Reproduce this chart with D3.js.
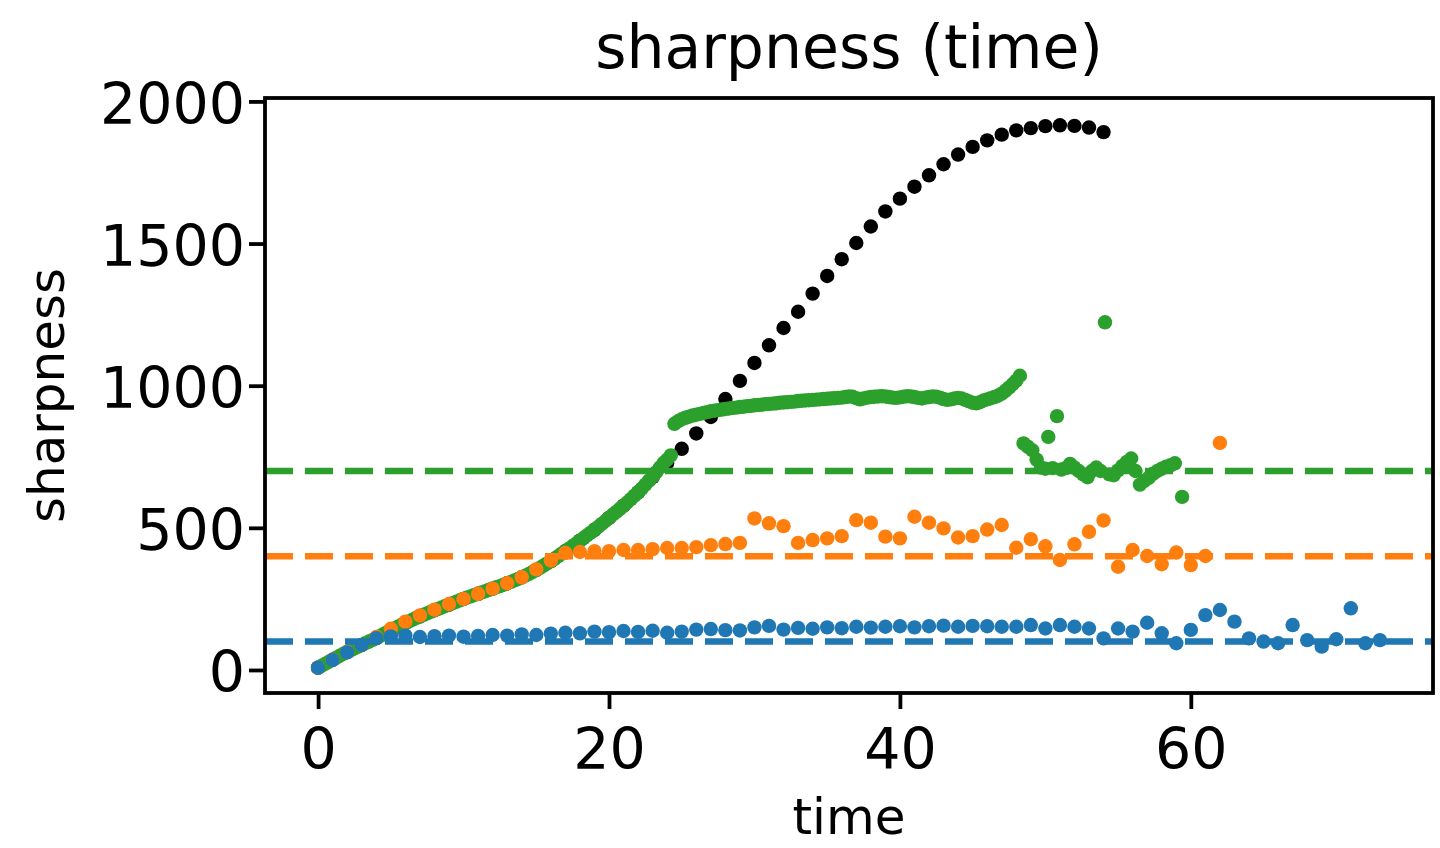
<!DOCTYPE html>
<html><head><meta charset="utf-8">
<script src="https://cdn.jsdelivr.net/npm/d3@7"></script>
<style>
body{margin:0;background:#fff;}
svg{display:block;}
text{font-family:"DejaVu Sans",sans-serif;fill:#000;}
</style>
</head><body>
<svg id="chart" width="1440" height="848"></svg>
<script>
// ---- data ----
const blackValues = [8,36,63,88,112,140,165,188,210,230,
  250,268,286,305,326,352,383,418,455,493,
  535,578,625,678,728,778,832,890,953,1017,
  1080,1142,1203,1260,1324,1386,1445,1502,1560,1613,
  1658,1700,1740,1779,1813,1840,1863,1883,1898,1906,
  1913,1916,1914,1908,1892];

const greenDenseStep = 0.25;
const greenDenseValues = [
  8,15,22,29, 36,43,50,57, 63,70,76,82, 88,94,100,106,
  112,119,126,133, 140,146,152,159, 165,171,177,183, 188,194,199,205,
  210,215,220,225, 230,235,240,245, 250,255,259,264, 268,273,277,282,
  286,291,295,300, 305,310,315,320, 326,332,338,345, 352,359,367,375,
  383,391,400,409, 418,427,436,445, 455,464,474,483, 493,503,514,524,
  535,546,556,567, 578,589,601,613, 625,638,652,666, 680,696,712,728,
  740,755,866,875, 882,887,891,895, 898,901,904,907, 910,912,914,916,
  918,920,922,923, 925,926,928,929, 931,932,933,935, 936,937,938,940,
  941,942,943,944, 946,947,948,949, 950,951,952,953, 954,955,956,957,
  958,960,962,961, 956,952,955,958, 960,961,962,963, 962,960,958,957,
  959,961,963,962, 960,957,955,958, 960,962,961,958, 953,950,952,955,
  957,955,950,945, 940,938,942,948, 952,956,960,965, 972,982,993,1005,
  1018,1035];

const greenLateTimes = [48.5,48.8,49.1,49.4,49.7,50.0,50.2,50.5,50.8,51.1,51.4,51.7,52.0,52.3,52.6,52.9,53.2,53.5,53.8,54.1,
  54.4,54.7,55.0,55.3,55.6,55.9,56.2,56.5,56.8,57.1,57.4,57.7,58.0,58.3,58.6,58.9,59.4];
const greenLateValues = [797,785,773,740,712,708,820,710,893,705,710,725,712,700,688,678,700,712,700,1223,
  688,685,702,718,732,744,700,652,665,676,690,700,708,715,720,727,609];

const orangeValues = [8,36,63,88,116,145,170,192,212,232,250,268,286,305,326,354,385,412,
  415,418,418,422,422,425,429,429,432,439,443,447,
  533,516,506,447,457,463,471,527,518,469,463,539,518,498,466,471,494,510,430,460,435,387,442,486,526,363,422,401,372,413,369,401,799];

const blueValues = [8,35,62,88,112,
  118,121,116,119,121,117,120,123,121,125,123,128,131,129,135,133,137,134,138,131,135,142,144,140,139,
  150,155,142,148,145,150,147,152,149,152,154,150,154,156,152,155,154,
  152,152,158,146,158,152,146,111,146,135,166,129,94,141,193,211,170,111,100,94,158,105,82,108,217,94,105];

const thresholdValues = [100, 400, 700];
const thresholdNames = ["blue", "orange", "green"];

const xTicks = [0, 20, 40, 60];
const yTicks = [0, 500, 1000, 1500, 2000];

const titleText = "sharpness (time)";
const xLabelText = "time";
const yLabelText = "sharpness";

// ---- styling ----
const colors = {blue:"#1f77b4", orange:"#ff7f0e", green:"#2ca02c", black:"#000000"};
const R = 7.2;

const plot = {left:265, right:1433, top:98, bottom:693};

const x = d3.scaleLinear().domain([-3.65, 76.65]).range([plot.left, plot.right]);
const y = d3.scaleLinear().domain([-81, 2012]).range([plot.bottom, plot.top]);

const svg = d3.select("#chart");

svg.append("defs").append("clipPath").attr("id","clip")
  .append("rect").attr("x",plot.left).attr("y",plot.top)
  .attr("width",plot.right-plot.left).attr("height",plot.bottom-plot.top);

const g = svg.append("g").attr("clip-path","url(#clip)");

function drawSeries(data, color){
  g.append("g").selectAll("circle").data(data).join("circle")
    .attr("cx", d => x(d[0])).attr("cy", d => y(d[1]))
    .attr("r", R).attr("fill", color);
}

drawSeries(blackValues.map((v,i)=>[i,v]), colors.black);
drawSeries(greenDenseValues.map((v,i)=>[i*greenDenseStep,v]), colors.green);
drawSeries(greenLateTimes.map((t,i)=>[t,greenLateValues[i]]), colors.green);
drawSeries(orangeValues.map((v,i)=>[i,v]), colors.orange);
drawSeries(blueValues.map((v,i)=>[i,v]), colors.blue);

// dashed threshold lines (on top of the points)
thresholdValues.forEach((v,i)=>{
  g.append("line")
    .attr("x1", plot.left).attr("x2", plot.right)
    .attr("y1", y(v)).attr("y2", y(v))
    .attr("stroke", colors[thresholdNames[i]])
    .attr("stroke-width", 6.5)
    .attr("stroke-dasharray", "28,12");
});

// axes
const fs = 57;
const xAxis = d3.axisBottom(x).tickValues(xTicks).tickSize(16).tickPadding(20).tickFormat(d3.format("d"));
const yAxis = d3.axisLeft(y).tickValues(yTicks).tickSize(16).tickPadding(4).tickFormat(d3.format("d"));

const gx = svg.append("g").attr("transform",`translate(0,${plot.bottom})`).call(xAxis);
const gy = svg.append("g").attr("transform",`translate(${plot.left},0)`).call(yAxis);
[gx,gy].forEach(a=>{
  a.select(".domain").remove();
  a.selectAll(".tick line").attr("stroke","#000").attr("stroke-width",3.8);
  a.selectAll(".tick text").attr("font-size",fs).attr("font-family","DejaVu Sans").attr("fill","#000");
});
gy.selectAll(".tick text").attr("dy","0.38em");

// frame
svg.append("rect").attr("x",plot.left).attr("y",plot.top)
  .attr("width",plot.right-plot.left).attr("height",plot.bottom-plot.top)
  .attr("fill","none").attr("stroke","#000").attr("stroke-width",3.8);

// title and labels
svg.append("text").attr("x",(plot.left+plot.right)/2).attr("y",68)
  .attr("text-anchor","middle").attr("font-size",60).text(titleText);
svg.append("text").attr("x",(plot.left+plot.right)/2).attr("y",834)
  .attr("text-anchor","middle").attr("font-size",50).text(xLabelText);
svg.append("text").attr("transform",`translate(64,${(plot.top+plot.bottom)/2}) rotate(-90)`)
  .attr("text-anchor","middle").attr("font-size",50).text(yLabelText);
</script>
</body></html>
